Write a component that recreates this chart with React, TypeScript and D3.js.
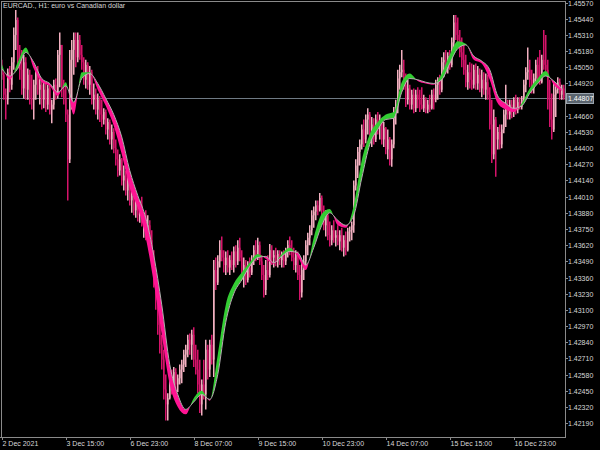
import React from "react";
import * as d3 from "d3";

const title = "EURCAD., H1:  euro vs Canadian dollar";
const firstOpen = 1.4503;
const highs = [
1.4511,1.4501,1.4488,1.4504,1.4506,1.4513,1.4537,1.4551,1.4545,1.4523,1.4519,1.4515,1.4513,1.4504,1.4503,1.4499,1.4495,1.4504,1.4506,1.4496,
1.4495,1.4493,1.4492,1.4491,1.4490,1.4479,1.4495,1.4496,1.4519,1.4533,1.4523,1.4495,1.4491,1.4471,1.4519,1.4527,1.4533,1.4533,1.4533,1.4531,
1.4523,1.4513,1.4511,1.4509,1.4506,1.4503,1.4492,1.4488,1.4484,1.4482,1.4479,1.4472,1.4471,1.4464,1.4463,1.4459,1.4456,1.4447,1.4439,1.4435,
1.4432,1.4426,1.4422,1.4418,1.4416,1.4406,1.4405,1.4401,1.4400,1.4398,1.4401,1.4388,1.4390,1.4386,1.4382,1.4374,1.4358,1.4342,1.4326,1.4306,
1.4290,1.4278,1.4258,1.4243,1.4259,1.4262,1.4264,1.4263,1.4258,1.4266,1.4270,1.4278,1.4282,1.4290,1.4291,1.4294,1.4296,1.4282,1.4278,1.4270,
1.4254,1.4270,1.4286,1.4282,1.4286,1.4290,1.4350,1.4352,1.4354,1.4366,1.4369,1.4358,1.4357,1.4358,1.4354,1.4357,1.4361,1.4362,1.4366,1.4368,
1.4358,1.4352,1.4350,1.4349,1.4352,1.4354,1.4362,1.4366,1.4368,1.4365,1.4354,1.4346,1.4350,1.4354,1.4363,1.4362,1.4358,1.4360,1.4358,1.4358,
1.4357,1.4358,1.4360,1.4366,1.4369,1.4366,1.4360,1.4358,1.4357,1.4346,1.4349,1.4354,1.4366,1.4372,1.4378,1.4390,1.4393,1.4398,1.4398,1.4404,
1.4402,1.4394,1.4390,1.4389,1.4381,1.4378,1.4382,1.4374,1.4378,1.4374,1.4376,1.4370,1.4373,1.4376,1.4377,1.4381,1.4414,1.4431,1.4441,1.4447,
1.4459,1.4463,1.4467,1.4472,1.4469,1.4465,1.4464,1.4467,1.4469,1.4467,1.4464,1.4461,1.4457,1.4455,1.4449,1.4447,1.4473,1.4479,1.4503,1.4507,
1.4519,1.4511,1.4500,1.4495,1.4491,1.4487,1.4488,1.4487,1.4489,1.4487,1.4489,1.4483,1.4481,1.4479,1.4483,1.4487,1.4488,1.4495,1.4497,1.4499,
1.4513,1.4517,1.4519,1.4517,1.4519,1.4529,1.4547,1.4547,1.4545,1.4535,1.4529,1.4523,1.4515,1.4507,1.4509,1.4508,1.4507,1.4508,1.4506,1.4504,
1.4503,1.4501,1.4500,1.4499,1.4489,1.4479,1.4471,1.4465,1.4457,1.4459,1.4459,1.4471,1.4491,1.4479,1.4479,1.4479,1.4481,1.4483,1.4481,1.4481,
1.4482,1.4495,1.4505,1.4521,1.4511,1.4503,1.4500,1.4511,1.4513,1.4519,1.4515,1.4535,1.4531,1.4511,1.4495,1.4484,1.4492,1.4491,1.4497,1.4496,
1.4491,1.4491
];
const lows = [
1.4495,1.4479,1.4463,1.4475,1.4485,1.4487,1.4503,1.4519,1.4504,1.4495,1.4483,1.4480,1.4479,1.4479,1.4475,1.4471,1.4463,1.4479,1.4483,1.4475,
1.4471,1.4472,1.4469,1.4471,1.4467,1.4460,1.4471,1.4479,1.4480,1.4489,1.4481,1.4475,1.4461,1.4398,1.4428,1.4471,1.4499,1.4505,1.4509,1.4511,
1.4503,1.4491,1.4488,1.4487,1.4483,1.4475,1.4471,1.4467,1.4463,1.4461,1.4457,1.4459,1.4451,1.4447,1.4443,1.4439,1.4436,1.4426,1.4417,1.4418,
1.4410,1.4406,1.4402,1.4398,1.4394,1.4388,1.4386,1.4384,1.4381,1.4380,1.4377,1.4368,1.4366,1.4366,1.4362,1.4346,1.4328,1.4310,1.4290,1.4275,
1.4262,1.4238,1.4221,1.4221,1.4238,1.4242,1.4244,1.4246,1.4244,1.4250,1.4251,1.4260,1.4264,1.4272,1.4274,1.4270,1.4264,1.4258,1.4243,1.4227,
1.4225,1.4238,1.4230,1.4254,1.4256,1.4266,1.4256,1.4326,1.4330,1.4344,1.4349,1.4340,1.4338,1.4340,1.4338,1.4342,1.4340,1.4344,1.4346,1.4349,
1.4334,1.4328,1.4330,1.4332,1.4336,1.4338,1.4346,1.4349,1.4350,1.4346,1.4334,1.4320,1.4322,1.4334,1.4336,1.4346,1.4344,1.4345,1.4344,1.4346,
1.4344,1.4344,1.4346,1.4352,1.4354,1.4349,1.4342,1.4340,1.4334,1.4318,1.4320,1.4334,1.4346,1.4354,1.4362,1.4370,1.4376,1.4382,1.4386,1.4389,
1.4386,1.4374,1.4369,1.4366,1.4361,1.4362,1.4364,1.4361,1.4362,1.4358,1.4357,1.4353,1.4354,1.4357,1.4365,1.4366,1.4372,1.4406,1.4416,1.4426,
1.4439,1.4441,1.4444,1.4451,1.4447,1.4441,1.4443,1.4445,1.4451,1.4447,1.4443,1.4441,1.4435,1.4431,1.4426,1.4425,1.4440,1.4459,1.4468,1.4487,
1.4497,1.4487,1.4473,1.4475,1.4471,1.4471,1.4468,1.4469,1.4472,1.4469,1.4471,1.4469,1.4468,1.4468,1.4469,1.4471,1.4471,1.4477,1.4479,1.4483,
1.4485,1.4497,1.4500,1.4500,1.4503,1.4505,1.4521,1.4527,1.4523,1.4513,1.4505,1.4499,1.4489,1.4487,1.4488,1.4487,1.4488,1.4487,1.4487,1.4485,
1.4481,1.4483,1.4479,1.4479,1.4455,1.4428,1.4431,1.4417,1.4439,1.4439,1.4440,1.4452,1.4457,1.4463,1.4463,1.4464,1.4465,1.4467,1.4468,1.4471,
1.4471,1.4477,1.4485,1.4495,1.4489,1.4484,1.4484,1.4493,1.4492,1.4491,1.4492,1.4503,1.4500,1.4471,1.4457,1.4447,1.4453,1.4465,1.4484,1.4479,
1.4479,1.4479
];
const closes = [
1.4499,1.4483,1.4479,1.4501,1.4491,1.4509,1.4531,1.4543,1.4511,1.4503,1.4488,1.4509,1.4487,1.4499,1.4480,1.4479,1.4491,1.4501,1.4487,1.4491,
1.4479,1.4487,1.4475,1.4488,1.4471,1.4475,1.4491,1.4483,1.4515,1.4523,1.4487,1.4480,1.4467,1.4431,1.4511,1.4519,1.4527,1.4513,1.4527,1.4515,
1.4509,1.4495,1.4507,1.4491,1.4501,1.4479,1.4483,1.4471,1.4479,1.4467,1.4463,1.4469,1.4455,1.4461,1.4447,1.4453,1.4440,1.4431,1.4422,1.4431,
1.4414,1.4418,1.4406,1.4414,1.4398,1.4402,1.4390,1.4398,1.4386,1.4394,1.4382,1.4386,1.4373,1.4378,1.4366,1.4350,1.4334,1.4318,1.4298,1.4282,
1.4270,1.4246,1.4234,1.4239,1.4255,1.4246,1.4260,1.4250,1.4255,1.4262,1.4266,1.4274,1.4278,1.4286,1.4282,1.4290,1.4270,1.4262,1.4250,1.4234,
1.4250,1.4242,1.4278,1.4262,1.4282,1.4270,1.4342,1.4332,1.4349,1.4358,1.4352,1.4346,1.4352,1.4344,1.4350,1.4346,1.4357,1.4349,1.4360,1.4352,
1.4338,1.4346,1.4334,1.4344,1.4340,1.4350,1.4358,1.4354,1.4362,1.4349,1.4338,1.4326,1.4342,1.4338,1.4358,1.4352,1.4354,1.4349,1.4355,1.4350,
1.4354,1.4349,1.4357,1.4362,1.4358,1.4352,1.4346,1.4354,1.4338,1.4324,1.4342,1.4349,1.4362,1.4368,1.4374,1.4386,1.4389,1.4394,1.4390,1.4400,
1.4390,1.4378,1.4386,1.4370,1.4366,1.4374,1.4368,1.4370,1.4365,1.4370,1.4360,1.4366,1.4358,1.4373,1.4374,1.4378,1.4410,1.4426,1.4437,1.4443,
1.4455,1.4447,1.4463,1.4467,1.4451,1.4459,1.4447,1.4463,1.4459,1.4463,1.4447,1.4456,1.4439,1.4447,1.4431,1.4443,1.4469,1.4475,1.4496,1.4501,
1.4503,1.4491,1.4479,1.4488,1.4475,1.4483,1.4472,1.4483,1.4479,1.4475,1.4472,1.4479,1.4471,1.4475,1.4472,1.4483,1.4479,1.4491,1.4495,1.4487,
1.4509,1.4511,1.4504,1.4514,1.4507,1.4525,1.4541,1.4531,1.4527,1.4517,1.4511,1.4503,1.4493,1.4501,1.4495,1.4491,1.4503,1.4492,1.4499,1.4488,
1.4495,1.4487,1.4493,1.4483,1.4459,1.4435,1.4463,1.4447,1.4453,1.4443,1.4455,1.4467,1.4471,1.4467,1.4475,1.4469,1.4479,1.4471,1.4477,1.4473,
1.4479,1.4491,1.4501,1.4503,1.4495,1.4488,1.4496,1.4507,1.4496,1.4493,1.4511,1.4507,1.4503,1.4479,1.4463,1.4455,1.4483,1.4487,1.4493,1.4483,
1.4488,1.44807
];
const ribbonStep = 4;
const fastLine = [
1.4508,1.4495,1.4509,1.4521,1.4504,1.4493,1.4490,1.4482,1.4493,1.4467,1.4501,1.4501,1.4487,1.4474,1.4458,1.4435,1.4408,1.4392,1.4368,1.4332,
1.4290,1.4250,1.4232,1.4226,1.4239,1.4245,1.4237,1.4274,1.4314,1.4331,1.4340,1.4348,1.4355,1.4351,1.4347,1.4355,1.4360,1.4353,1.4342,1.4368,
1.4387,1.4391,1.4378,1.4376,1.4394,1.4430,1.4451,1.4461,1.4467,1.4469,1.4493,1.4500,1.4494,1.4492,1.4491,1.4500,1.4515,1.4526,1.4524,1.4511,
1.4508,1.4495,1.4476,1.4471,1.4469,1.4476,1.4488,1.4496,1.4502,1.4491,1.4486
];
const slowLine = [
1.4504,1.4498,1.4504,1.4517,1.4509,1.4496,1.4492,1.4485,1.4490,1.4477,1.4496,1.4500,1.4492,1.4480,1.4467,1.4449,1.4422,1.4402,1.4384,1.4354,
1.4314,1.4266,1.4242,1.4230,1.4236,1.4242,1.4238,1.4258,1.4300,1.4323,1.4334,1.4345,1.4352,1.4353,1.4348,1.4353,1.4357,1.4356,1.4346,1.4360,
1.4378,1.4388,1.4382,1.4378,1.4386,1.4416,1.4443,1.4455,1.4463,1.4464,1.4485,1.4496,1.4495,1.4493,1.4492,1.4495,1.4508,1.4520,1.4523,1.4514,
1.4510,1.4503,1.4482,1.4476,1.4472,1.4474,1.4484,1.4492,1.4498,1.4494,1.4488
];
const priceTicks = [
1.42190,1.42320,1.42450,1.42580,1.42710,1.42840,1.42970,1.43100,1.43230,1.43360,1.43490,1.43620,1.43750,1.43880,
1.44010,1.44140,1.44270,1.44400,1.44530,1.44660,1.44920,1.45050,1.45180,1.45310,1.45440,1.45570
];
const timeLabels = ["2 Dec 2021","3 Dec 15:00","6 Dec 23:00","8 Dec 07:00","9 Dec 15:00","10 Dec 23:00","14 Dec 07:00","15 Dec 15:00","16 Dec 23:00"];
const timeLabelBars = [0,32,64,96,128,160,192,224,256];
const currentPrice = 1.44807;

const PLOT_R = 565;
const PLOT_B = 437;
const BULL = "#f2b0c0";
const BEAR = "#d6136a";
const GREEN = "#33cc33";
const PINK = "#ff1493";
const AXIS = "#8a8a8a";
const TEXT = "#d8d8d8";
const FONT = "'Liberation Sans', Arial, sans-serif";

export default function App() {
  const x = d3.scaleLinear().domain([0, closes.length - 1]).range([1.75, 563.75]);
  const y = d3.scaleLinear().domain([1.42078, 1.45591]).range([PLOT_B, 0]);

  const opens = closes.map((c, i) => (i === 0 ? firstOpen : closes[i - 1]));
  const ribbon = fastLine.map((f, k) => ({ i: k * ribbonStep, fast: f, slow: slowLine[k] }));

  const curve = d3.curveMonotoneX;
  const band = d3.area<any>().x((d) => x(d.i)).y0((d) => y(d.slow)).y1((d) => y(d.fast)).curve(curve)(ribbon) || "";
  const aboveSlow = d3.area<any>().x((d) => x(d.i)).y0(0).y1((d) => y(d.slow)).curve(curve)(ribbon) || "";
  const belowSlow = d3.area<any>().x((d) => x(d.i)).y0(PLOT_B).y1((d) => y(d.slow)).curve(curve)(ribbon) || "";
  const slowPath = d3.line<any>().x((d) => x(d.i)).y((d) => y(d.slow)).curve(curve)(ribbon) || "";

  const cy = Math.round(y(currentPrice)) + 0.5;

  return (
    <svg width={600} height={450} style={{ position: "absolute", left: 0, top: 0, background: "#000" }}>
      <defs>
        <clipPath id="clipUp"><path d={aboveSlow} /></clipPath>
        <clipPath id="clipDown"><path d={belowSlow} /></clipPath>
        <clipPath id="plot"><rect x={1} y={1} width={PLOT_R - 1} height={PLOT_B - 1} /></clipPath>
      </defs>
      <rect x={0} y={0} width={600} height={450} fill="#000" />
      <text x={3} y={8} fill={TEXT} fontFamily={FONT} fontSize={7}>{title}</text>
      <line x1={0} x2={PLOT_R} y1={cy} y2={cy} stroke="#6f7a84" strokeWidth={1} />
      <g clipPath="url(#plot)">
        {closes.map((c, i) => {
          const o = opens[i];
          const col = c >= o ? BULL : BEAR;
          const xx = x(i);
          const top = y(Math.max(o, c));
          const bot = y(Math.min(o, c));
          return (
            <g key={i}>
              <line x1={xx} x2={xx} y1={y(highs[i])} y2={y(lows[i])} stroke={col} strokeWidth={1.5} />
              <rect x={xx - 0.75} y={top} width={1.5} height={Math.max(1, bot - top)} fill={col} />
            </g>
          );
        })}
      </g>
      <g clipPath="url(#plot)">
        <path d={band} fill={GREEN} clipPath="url(#clipUp)" />
        <path d={band} fill={PINK} clipPath="url(#clipDown)" />
        <path d={slowPath} fill="none" stroke="#bdbdbd" strokeWidth={0.9} />
      </g>
      <line x1={1.5} x2={1.5} y1={1} y2={PLOT_B} stroke={AXIS} />
      <line x1={1} x2={PLOT_R} y1={1.5} y2={1.5} stroke={AXIS} />
      <line x1={PLOT_R + 0.5} x2={PLOT_R + 0.5} y1={1} y2={PLOT_B + 1} stroke={AXIS} />
      <line x1={0} x2={PLOT_R + 1} y1={PLOT_B + 0.5} y2={PLOT_B + 0.5} stroke={AXIS} />
      {priceTicks.map((p) => {
        const yy = Math.round(y(p)) + 0.5;
        return (
          <g key={p}>
            <line x1={PLOT_R} x2={PLOT_R + 3} y1={yy} y2={yy} stroke={AXIS} />
            <text x={PLOT_R + 3} y={yy} dy="0.35em" fill={TEXT} fontFamily={FONT} fontSize={7}>{p.toFixed(5)}</text>
          </g>
        );
      })}
      <rect x={PLOT_R + 1.5} y={cy - 5} width={27} height={10} fill="#5a646e" stroke="#9aa4ae" strokeWidth={1} />
      <text x={PLOT_R + 3} y={cy} dy="0.35em" fill="#ffffff" fontFamily={FONT} fontSize={7}>{currentPrice.toFixed(5)}</text>
      {timeLabels.map((t, k) => {
        const xx = Math.round(x(timeLabelBars[k])) + 0.5;
        return (
          <g key={t}>
            <line x1={xx} x2={xx} y1={PLOT_B} y2={PLOT_B + 3} stroke={AXIS} />
            <text x={xx} y={446} fill={TEXT} fontFamily={FONT} fontSize={7}>{t}</text>
          </g>
        );
      })}
    </svg>
  );
}
